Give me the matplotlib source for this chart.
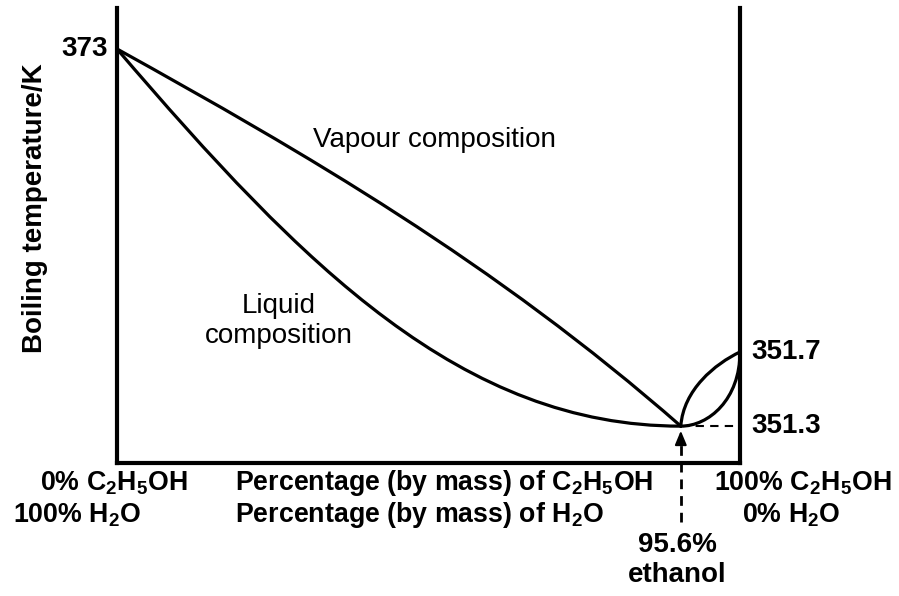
import matplotlib
matplotlib.use("Agg")
import matplotlib.pyplot as plt
from matplotlib.path import Path
from matplotlib.patches import PathPatch

plt.rcParams["font.family"] = ["Liberation Sans", "DejaVu Sans"]
plt.rcParams["mathtext.fontset"] = "custom"
plt.rcParams["mathtext.rm"] = "Liberation Sans:bold"
plt.rcParams["mathtext.it"] = "Liberation Sans:bold"
plt.rcParams["mathtext.bf"] = "Liberation Sans:bold"

# schematic diagram units: x = position across the plot (0..100), y = height (0..100)
# each curve is a cubic Bezier: start, two control points, end
vapour_pts = [(0, 91.0), (30, 68.2), (60.5, 44.1), (90.5, 8.1)]
liquid_pts = [(0, 91.0), (30, 43.0), (55.5, 8.1), (90.5, 8.1)]
# the small loop between the azeotrope and pure ethanol
upper_pts = [(90.5, 8.1), (90.9, 16.1), (96.0, 21.8), (100, 24.4)]
lower_pts = [(90.5, 8.1), (95.0, 8.1), (100, 14.0), (100, 24.4)]

azeo_x = 90.5
azeo_y = 8.1
temp_labels = ["373", "351.7", "351.3"]
temp_levels = [91.0, 24.4, 8.1]

fig = plt.figure(figsize=(8.99, 5.96), dpi=100)
ax = fig.add_axes([117 / 899, 133 / 596, 623 / 899, 455 / 596])
ax.set_xlim(0, 100)
ax.set_ylim(0, 100)
ax.set_xticks([])
ax.set_yticks([])
ax.spines["top"].set_visible(False)
for s in ["left", "right", "bottom"]:
    ax.spines[s].set_linewidth(3)

lw = 2.3
codes = [Path.MOVETO, Path.CURVE4, Path.CURVE4, Path.CURVE4]
for pts in [vapour_pts, liquid_pts, upper_pts, lower_pts]:
    ax.add_patch(PathPatch(Path(pts, codes), facecolor="none", edgecolor="black",
                           lw=lw, capstyle="round"))

# dashed guide to 351.3 and dashed arrow from 95.6 %
ax.plot([azeo_x, 100], [azeo_y, azeo_y], color="black", lw=1.5, dashes=(4, 3))
ax.plot([azeo_x, azeo_x], [-13, 4.8], color="black", lw=2, dashes=(3.5, 2.5), clip_on=False)
ax.annotate("", xy=(azeo_x, azeo_y - 0.4), xytext=(azeo_x, 4.2),
            arrowprops=dict(arrowstyle="-|>,head_width=0.25,head_length=0.6",
                            color="black", lw=1.5, mutation_scale=14),
            annotation_clip=False)

fs = 20
fs_sub = 19.3
ax.text(-1.4, temp_levels[0], temp_labels[0], ha="right", va="center", fontsize=fs, fontweight="bold")
ax.text(101.9, temp_levels[1], temp_labels[1], ha="left", va="center", fontsize=fs, fontweight="bold")
ax.text(101.9, temp_levels[2], temp_labels[2], ha="left", va="center", fontsize=fs, fontweight="bold")

ax.text(-13.2, 56, "Boiling temperature/K", rotation=90, ha="center", va="center",
        fontsize=fs, fontweight="bold")

ax.text(50.9, 71.0, "Vapour composition", ha="center", va="center", fontsize=fs)
ax.text(26.0, 31.2, "Liquid\ncomposition", ha="center", va="center", fontsize=fs, linespacing=1.2)

ax.text(-12.4, -4.4, r"0% C$_2$H$_5$OH", ha="left", va="center", fontsize=fs_sub, fontweight="bold")
ax.text(-16.7, -11.4, r"100% H$_2$O", ha="left", va="center", fontsize=fs_sub, fontweight="bold")
ax.text(18.9, -4.4, r"Percentage (by mass) of C$_2$H$_5$OH", ha="left", va="center",
        fontsize=fs_sub, fontweight="bold")
ax.text(18.9, -11.4, r"Percentage (by mass) of H$_2$O", ha="left", va="center",
        fontsize=fs_sub, fontweight="bold")
ax.text(110.1, -4.4, r"100% C$_2$H$_5$OH", ha="center", va="center", fontsize=fs_sub, fontweight="bold")
ax.text(108.2, -11.4, r"0% H$_2$O", ha="center", va="center", fontsize=fs_sub, fontweight="bold")
ax.text(89.9, -18.0, "95.6%", ha="center", va="center", fontsize=fs, fontweight="bold")
ax.text(89.9, -24.6, "ethanol", ha="center", va="center", fontsize=fs, fontweight="bold")

fig.savefig("out.png", dpi=100)
